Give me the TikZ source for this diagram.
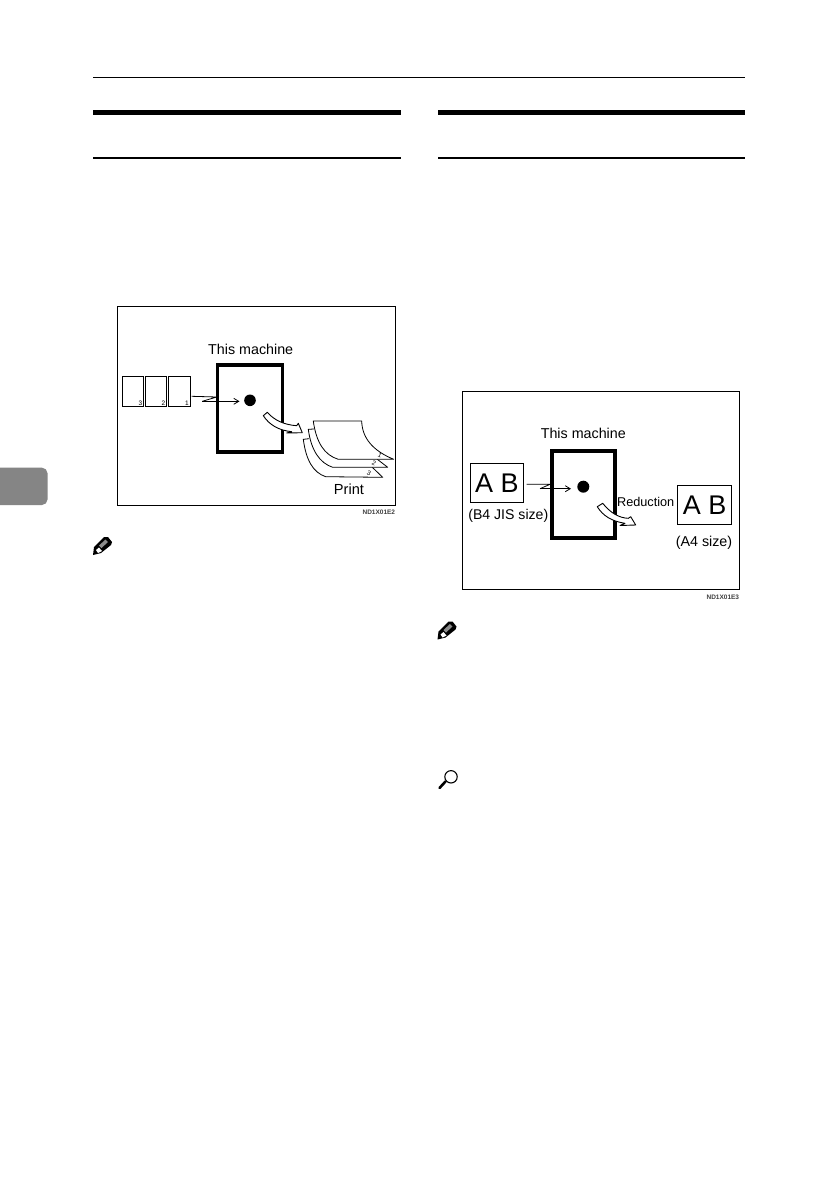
\documentclass[tikz,border=0pt]{standalone}
\usepackage{fontspec}
\setmainfont{Liberation Sans}
\usetikzlibrary{arrows.meta}
\tikzset{
  frameline/.style={draw=black,line width=1pt,fill=white},
  machinebox/.style={draw=black,line width=3.1pt,fill=white,minimum width=#1,inner sep=0pt},
  paperbox/.style={draw=black,line width=0.9pt,fill=white,inner sep=0pt},
  dotnode/.style={circle,fill=black,inner sep=0pt,minimum size=#1},
  lbl/.style={inner sep=0pt,font=\fontsize{14.3}{16}\selectfont},
  biglbl/.style={inner sep=0pt,font=\fontsize{27}{30}\selectfont},
  tiny num/.style={inner sep=0pt,font=\fontsize{6.5}{7}\selectfont},
  code/.style={inner sep=0pt,anchor=east,font=\bfseries\fontsize{6.5}{7}\selectfont,text=black!75},
  feed/.style={draw=black,line width=0.8pt,-{Straight Barb[length=5pt,width=6pt]}},
  bentarrow/.style={draw=black,line width=0.9pt,fill=white,line join=round},
  sheet/.style={draw=black,line width=0.8pt,fill=white,line join=round},
  pencil/.pic={
    \fill[black] (0,18) -- (1,10) -- (11,0) -- (15,0) -- (19,5) -- (18,8) -- (8,16) -- cycle;
    \fill[white] (3,13) -- (6,10.5) -- (9,14) -- (5,16) -- cycle;
    \fill[black!45] (6,8.5) -- (12.5,2.5) -- (15,5) -- (8.5,11) -- cycle;
  },
  magnifier/.pic={
    \draw[black,line width=1.1pt,fill=white] (13,6.8) circle[radius=6.2];
    \draw[black,line width=2.6pt,line cap=round] (1.5,18) -- (7.5,11.5);
  }
}
\begin{document}
\begin{tikzpicture}[x=1pt,y=-1pt]
\useasboundingbox (0,0) rectangle (839,1191);
\fill[white] (0,0) rectangle (839,1191);

% page furniture
\fill[black] (93,76.6) rectangle (745,78);
\fill[black] (93,110) rectangle (401,115);
\fill[black] (93,157) rectangle (401,159);
\fill[black] (438,110) rectangle (745,115);
\fill[black] (438,157) rectangle (745,159);
\fill[black!48] (0,467.7) [rounded corners=5.5pt] -- (47.5,467.7) -- (47.5,505) [sharp corners] -- (0,505) -- cycle;
\pic at (93,537) {pencil};
\pic at (437.5,621.5) {pencil};
\pic at (438,770) {magnifier};

% left figure
\draw[frameline] (117.3,306.3) rectangle (395.3,505);
\node[machinebox=64.6pt,minimum height=87pt] (m1) at (250,408.5) {};
\node[dotnode=11.6pt] (d1) at (250,400.3) {};
\node[lbl] (t1) at (250.7,349.5) {This machine};
\node[paperbox,minimum width=21.4pt,minimum height=30pt] (p3) at (133,391.3) {};
\node[paperbox,minimum width=21.4pt,minimum height=30pt] (p2) at (156,391.3) {};
\node[paperbox,minimum width=22pt,minimum height=30pt] (p1) at (179.3,391.3) {};
\node[tiny num] (n3) at (140.5,403) {3};
\node[tiny num] (n2) at (163.5,403) {2};
\node[tiny num] (n1) at (187,403) {1};
\coordinate (z1a) at (191.7,396.3);
\coordinate (z1b) at (216.7,397);
\coordinate (z1c) at (202.3,401.3);
\coordinate (z1d) at (239.5,401.3);
\draw[draw=black,line width=0.8pt,line join=miter] (z1a) -- (z1b) -- (z1c);
\draw[feed] (z1c) -- (z1d);
% bent output arrow
\draw[bentarrow] (263.3,415.7) -- (267.3,412.3) .. controls (274.4,420.4) and (284.2,424.8) .. (296.7,425.7)
  -- (298.3,423.3) -- (302.3,432.7) -- (286.7,433) -- (291.7,431.7)
  .. controls (278.9,430.4) and (269.4,425) .. (263.3,415.7) -- cycle;
% stack of prints
\draw[sheet] (309,438.7) -- (303.3,439.3) .. controls (306,460) and (313,472.5) .. (325.7,476.7) -- (382.7,477.3) -- (372.3,467.3);
\draw[sheet] (314,429) -- (308.3,429.3) .. controls (311,450) and (319.5,463) .. (332.7,467.3) -- (387.7,467.3) -- (377.3,459.3);
\draw[sheet] (313.3,421) -- (361.7,421) .. controls (362.1,438) and (372.8,450.7) .. (393.7,459.3) -- (338.3,459.3) .. controls (324.5,455.2) and (316.2,442.5) .. (313.3,421) -- cycle;
\node[tiny num,rotate=-25] (s1) at (380,455) {1};
\node[tiny num,rotate=-25] (s2) at (374,463.3) {2};
\node[tiny num,rotate=-25] (s3) at (369,473.3) {3};
\node[lbl,font=\fontsize{14.6}{16}\selectfont] (t2) at (349,489.5) {Print};
\node[code] (c1) at (395.3,512.7) {ND1X01E2};

% right figure
\draw[frameline] (462.3,391.3) rectangle (739.7,589.3);
\node[machinebox=63pt,minimum height=87pt] (m2) at (583.5,494.5) {};
\node[dotnode=12pt] (d2) at (583.3,486.7) {};
\node[lbl] (t3) at (583.3,433.7) {This machine};
\node[paperbox,minimum width=53pt,minimum height=38.6pt,biglbl] (a1) at (496.8,483) {A B};
\node[paperbox,minimum width=54pt,minimum height=38.6pt,biglbl] (a2) at (704.7,505) {A B};
\node[lbl,font=\fontsize{14.1}{16}\selectfont] (t4) at (508.3,515.7) {(B4 JIS size)};
\node[lbl] (t5) at (704,542.3) {(A4 size)};
\coordinate (z2a) at (526.7,484.3);
\coordinate (z2b) at (550,484.3);
\coordinate (z2c) at (540,488.7);
\coordinate (z2d) at (571,488.7);
\draw[draw=black,line width=0.8pt] (z2a) -- (z2b) -- (z2c);
\draw[feed] (z2c) -- (z2d);
\draw[bentarrow] (597.3,506.7) -- (602.7,503.3) .. controls (610.6,513) and (619.1,518) .. (628.3,518.3)
  -- (630.7,516.7) -- (635.7,525) -- (620,525.5) -- (625,523.3)
  .. controls (612,521.4) and (602.8,515.8) .. (597.3,506.7) -- cycle;
\node[lbl,font=\fontsize{12.7}{15}\selectfont] (t6) at (645.7,502.3) {Reduction};
\node[code] (c2) at (739.3,597.7) {ND1X01E3};
\end{tikzpicture}
\end{document}
